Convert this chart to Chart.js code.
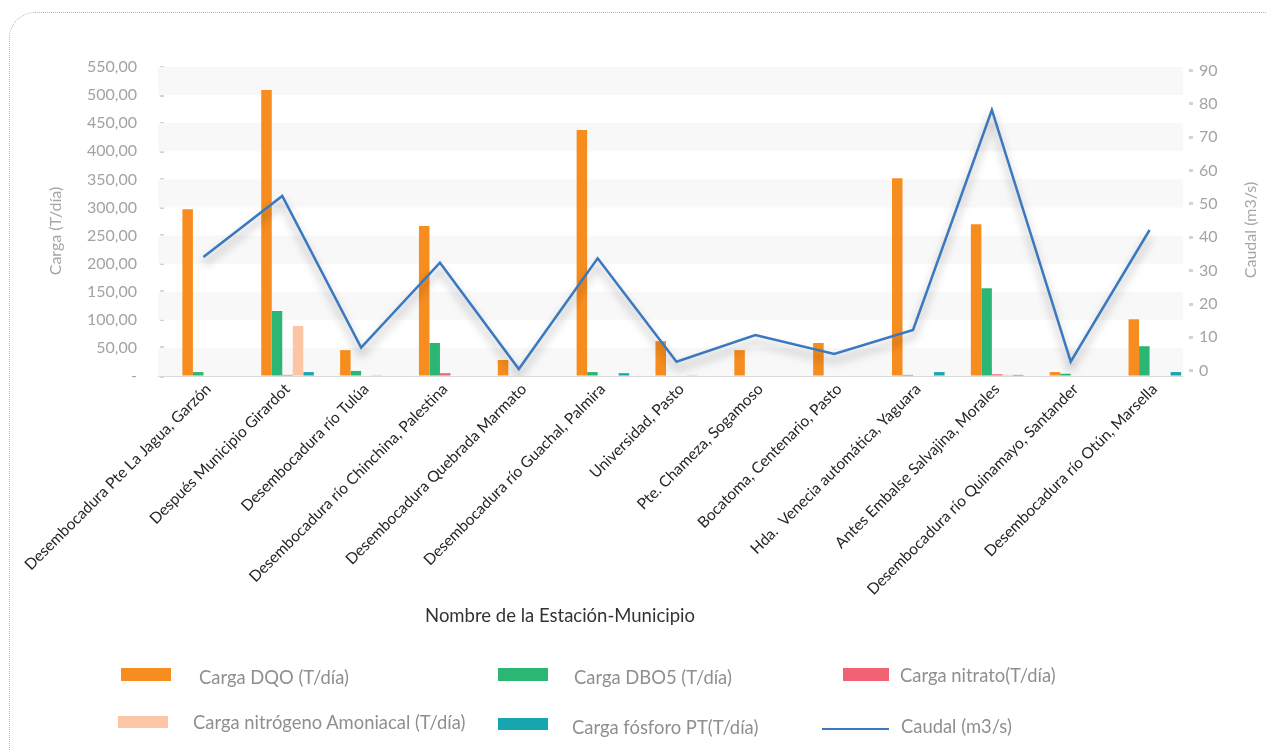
<!DOCTYPE html>
<html>
<head>
<meta charset="utf-8">
<script src="https://cdn.jsdelivr.net/npm/chart.js@4"></script>
<style>
  html, body { margin: 0; padding: 0; background: #ffffff; overflow: hidden; }
  #wrap { position: relative; width: 1266px; height: 751px; font-family: 'Lato', sans-serif; }
  #c { position: absolute; left: 0; top: 0; }
  #frame { position: absolute; left: 9px; top: 12px; width: 1300px; height: 800px;
           border: 1px dotted #b8b8b8; border-top-left-radius: 26px; box-sizing: border-box; pointer-events: none; }
  .lg-box { position: absolute; }
  .lg-text { position: absolute; font-size: 18.4px; color: #8f8f8f; white-space: nowrap; transform: translateY(-50%); line-height: 22px; }
  #xtitle { position: absolute; left: 560px; top: 615px; transform: translate(-50%, -50%);
            font-size: 18.5px; color: #333333; white-space: nowrap; line-height: 22px; }
  .ytitle { position: absolute; transform: translate(-50%, -50%) rotate(-90deg);
            font-size: 16px; color: #a6a6a6; white-space: nowrap; line-height: 20px; }
</style>
</head>
<body>
<div id="wrap">
  <canvas id="c" width="1266" height="751"></canvas>
  <div id="frame"></div>
  <div id="xtitle">Nombre de la Estación-Municipio</div>
  <div class="ytitle" style="left:55px; top:231px;">Carga (T/día)</div>
  <div class="ytitle" style="left:1250px; top:230px;">Caudal (m3/s)</div>
  <div id="legend"></div>
</div>
<script>
// ---- data ----
const categories = [
  'Desembocadura Pte La Jagua, Garzón',
  'Después Municipio Girardot',
  'Desembocadura río Tulúa',
  'Desembocadura río Chinchina, Palestina',
  'Desembocadura Quebrada Marmato',
  'Desembocadura río Guachal, Palmira',
  'Universidad, Pasto',
  'Pte. Chameza, Sogamoso',
  'Bocatoma, Centenario, Pasto',
  'Hda.  Venecia automática, Yaguara',
  'Antes Embalse Salvajina, Morales',
  'Desembocadura río Quinamayo, Santander',
  'Desembocadura río Otún, Marsella'
];
const cargaDQO       = [297, 509, 46, 267, 28.5, 438, 62, 46, 58.7, 352, 270, 7, 101];
const cargaDBO5      = [7, 115.7, 9, 58.7, 0, 7, 0, 0, 0, 2, 156, 4, 53];
const cargaNitrato   = [0, 2, 0, 5, 0, 0, 0, 0, 0, 0, 3, 0, 0];
const cargaAmoniacal = [0, 89, 2, 0, 0, 0, 2, 0, 0, 0, 2, 0, 0];
const cargaFosforo   = [0, 7, 0, 0, 0, 5, 0, 0, 0, 7, 2, 0, 7];
const caudal         = [34.1, 52.4, 6.9, 32.4, 0.5, 33.7, 2.7, 10.7, 5.0, 12.2, 78.2, 2.7, 42.2];
// empty series that holds the first (blank) slot of each bar group, as in the original workbook
const serieVacia     = [null, null, null, null, null, null, null, null, null, null, null, null, null];
const leftTicks  = [0, 50, 100, 150, 200, 250, 300, 350, 400, 450, 500, 550];
const rightTicks = [0, 10, 20, 30, 40, 50, 60, 70, 80, 90];

const seriesNames = ['Carga DQO (T/día)', 'Carga DBO5 (T/día)', 'Carga nitrato(T/día)',
                     'Carga nitrógeno Amoniacal (T/día)', 'Carga fósforo PT(T/día)', 'Caudal (m3/s)'];
const seriesColors = ['#f68d1e', '#2cb673', '#f16275', '#fcc6a6', '#17a5b2', '#3a78c0'];

// ---- plugins ----
const BAND_SHIFT = -6;
const bandsPlugin = {
  id: 'bands',
  beforeDatasetsDraw(chart) {
    const { ctx, chartArea } = chart;
    const y = chart.scales.y;
    const w = chartArea.right - chartArea.left;
    ctx.save();
    for (let i = 0; i < leftTicks.length - 1; i++) {
      if (i % 2 === 0) {
        const y0 = y.getPixelForValue(leftTicks[i]);
        const y1 = y.getPixelForValue(leftTicks[i + 1]);
        ctx.fillStyle = '#f8f8f8';
        ctx.fillRect(chartArea.left + BAND_SHIFT, y1, w, y0 - y1);
      }
    }
    // category-axis baseline
    const yb = Math.round(y.getPixelForValue(0)) + 0.5;
    ctx.strokeStyle = '#d9d9d9';
    ctx.lineWidth = 1;
    ctx.beginPath();
    ctx.moveTo(chartArea.left + BAND_SHIFT, yb);
    ctx.lineTo(chartArea.left + BAND_SHIFT + w, yb);
    ctx.stroke();
    ctx.restore();
  }
};
const shadowPlugin = {
  id: 'lineShadow',
  beforeDatasetDraw(chart, args) {
    if (chart.data.datasets[args.index].type === 'line') {
      const ctx = chart.ctx;
      ctx.save();
      ctx.shadowColor = 'rgba(0,0,0,0.38)';
      ctx.shadowBlur = 10;
      ctx.shadowOffsetX = 0;
      ctx.shadowOffsetY = 7;
    }
  },
  afterDatasetDraw(chart, args) {
    if (chart.data.datasets[args.index].type === 'line') {
      chart.ctx.restore();
    }
  }
};

const barSeries = [serieVacia, cargaDQO, cargaDBO5, cargaNitrato, cargaAmoniacal, cargaFosforo];
const barColors = ['rgba(0,0,0,0)'].concat(seriesColors.slice(0, 5));
const barNames  = [''].concat(seriesNames.slice(0, 5));
const datasets = [{
  type: 'line', label: seriesNames[5], data: caudal, yAxisID: 'y1',
  borderColor: seriesColors[5], borderWidth: 2.5, pointRadius: 0, tension: 0, order: 0
}];
barSeries.forEach((d, i) => datasets.push({
  type: 'bar', label: barNames[i], data: d, yAxisID: 'y',
  backgroundColor: barColors[i], borderWidth: 0, order: 1,
  categoryPercentage: 0.8, barPercentage: 1.0
}));

Chart.defaults.font.family = "'Lato', sans-serif";

new Chart(document.getElementById('c'), {
  data: { labels: categories, datasets },
  plugins: [bandsPlugin, shadowPlugin],
  options: {
    responsive: false,
    animation: false,
    layout: { padding: { left: 64, right: 24, top: 67, bottom: 126 } },
    plugins: { legend: { display: false }, tooltip: { enabled: false } },
    scales: {
      x: {
        afterFit(s) { s.height = 249; },
        grid: { display: true, drawOnChartArea: false, drawTicks: false },
        border: { display: false },
        ticks: { autoSkip: false, minRotation: 45, maxRotation: 45, padding: 4, labelOffset: 5,
                 color: '#262626', font: { size: 15.5 } },
        title: { display: false }
      },
      y: {
        position: 'left', min: 0, max: 550,
        afterFit(s) { s.width = 100; },
        afterBuildTicks(s) { s.ticks = leftTicks.map(v => ({ value: v })); },
        grid: { drawOnChartArea: false, drawTicks: true, tickLength: 4, tickWidth: 3, tickColor: '#d4d4d4' },
        border: { display: false },
        ticks: { padding: 23, color: '#a3a3a3', font: { size: 16 },
                 callback: v => v === 0 ? '-' : v.toFixed(2).replace('.', ',') },
        title: { display: false }
      },
      y1: {
        position: 'right', min: -1.6, max: 91.1,
        afterFit(s) { s.width = 53; },
        afterBuildTicks(s) { s.ticks = rightTicks.map(v => ({ value: v })); },
        grid: { drawOnChartArea: false, drawTicks: true, tickLength: 4, tickWidth: 3, tickColor: '#d4d4d4' },
        border: { display: false },
        ticks: { padding: 6, color: '#a3a3a3', font: { size: 16 } },
        title: { display: false }
      }
    }
  }
});

// ---- HTML legend (layout kept separate from data) ----
const legendLayout = [
  { s: 0, box: [121, 668, 50, 13], text: [199, 677] },
  { s: 1, box: [498, 668, 50, 13], text: [574, 677] },
  { s: 2, box: [843, 668, 46, 13], text: [900, 675] },
  { s: 3, box: [118, 716, 50, 12], text: [193, 722] },
  { s: 4, box: [498, 718, 50, 12], text: [572, 727] },
  { s: 5, line: [822, 729, 67], text: [901, 726] }
];
const lg = document.getElementById('legend');
legendLayout.forEach(it => {
  const b = document.createElement('div');
  b.className = 'lg-box';
  if (it.box) {
    b.style.left = it.box[0] + 'px'; b.style.top = it.box[1] + 'px';
    b.style.width = it.box[2] + 'px'; b.style.height = it.box[3] + 'px';
  } else {
    b.style.left = it.line[0] + 'px'; b.style.top = (it.line[1] - 1) + 'px';
    b.style.width = it.line[2] + 'px'; b.style.height = '2px';
  }
  b.style.background = seriesColors[it.s];
  lg.appendChild(b);
  const t = document.createElement('div');
  t.className = 'lg-text';
  t.style.left = it.text[0] + 'px'; t.style.top = it.text[1] + 'px';
  t.textContent = seriesNames[it.s];
  lg.appendChild(t);
});
</script>
</body>
</html>
